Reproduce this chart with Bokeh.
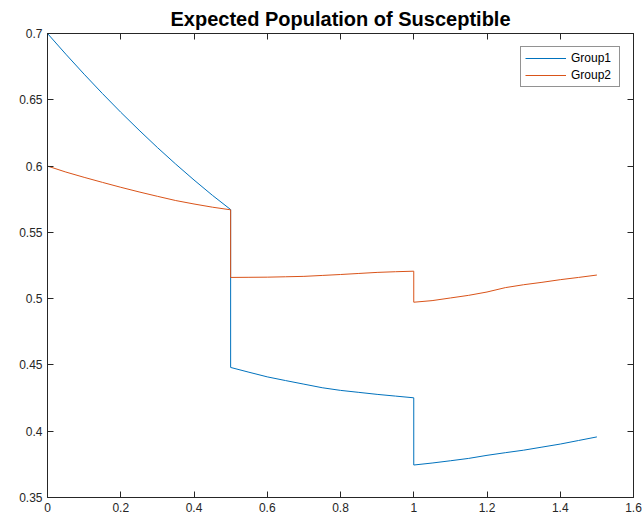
from bokeh.plotting import figure
from bokeh.models import Range1d, FixedTicker, LinearAxis, Legend, LegendItem
from bokeh.embed import file_html
from bokeh.resources import INLINE

# Data
x_seg1 = [0.0, 0.05, 0.1, 0.15, 0.2, 0.25, 0.3, 0.35, 0.4, 0.45, 0.5]
x_seg2 = [0.5, 0.55, 0.6, 0.65, 0.7, 0.75, 0.8, 0.85, 0.9, 0.95, 1.0]
x_seg3 = [1.0, 1.05, 1.1, 1.15, 1.2, 1.25, 1.3, 1.35, 1.4, 1.45, 1.5]

group1_seg1 = [0.7, 0.6844, 0.6693, 0.6547, 0.6406, 0.6271, 0.6140, 0.6015, 0.5895, 0.5780, 0.5672]
group1_seg2 = [0.4481, 0.4445, 0.4410, 0.4382, 0.4355, 0.4328, 0.4308, 0.4293, 0.4278, 0.4265, 0.4252]
group1_seg3 = [0.3745, 0.3760, 0.3777, 0.3795, 0.3818, 0.3838, 0.3857, 0.3880, 0.3903, 0.3930, 0.3957]

group2_seg1 = [0.6, 0.5955, 0.5915, 0.5877, 0.5840, 0.5805, 0.5772, 0.5740, 0.5714, 0.5690, 0.5670]
group2_seg2 = [0.5160, 0.5161, 0.5162, 0.5165, 0.5168, 0.5175, 0.5182, 0.5190, 0.5198, 0.5203, 0.5207]
group2_seg3 = [0.4973, 0.4985, 0.5005, 0.5025, 0.5050, 0.5083, 0.5105, 0.5123, 0.5143, 0.5160, 0.5178]

x_ticks = [0, 0.2, 0.4, 0.6, 0.8, 1.0, 1.2, 1.4, 1.6]
x_tick_labels = ["0", "0.2", "0.4", "0.6", "0.8", "1", "1.2", "1.4", "1.6"]
y_ticks = [0.35, 0.4, 0.45, 0.5, 0.55, 0.6, 0.65, 0.7]
y_tick_labels = ["0.35", "0.4", "0.45", "0.5", "0.55", "0.6", "0.65", "0.7"]

series_names = ["Group1", "Group2"]
colors = ["#0072BD", "#D95319"]

x_all = x_seg1 + x_seg2 + x_seg3
g1 = group1_seg1 + group1_seg2 + group1_seg3
g2 = group2_seg1 + group2_seg2 + group2_seg3

FONT = "Liberation Sans"
AX = "#262626"

p = figure(width=644, height=525, output_backend="svg", toolbar_location=None,
           x_range=Range1d(0, 1.6), y_range=Range1d(0.35, 0.7),
           min_border_left=47, min_border_right=11, min_border_top=33, min_border_bottom=28)

p.title.text = "Expected Population of Susceptible"
p.title.align = "center"
p.title.text_font = FONT
p.title.text_font_size = "20px"
p.title.text_font_style = "bold"
p.title.text_color = "#000000"
p.title.standoff = 8

p.xgrid.visible = False
p.ygrid.visible = False
p.outline_line_color = AX
p.outline_line_width = 1

r1 = p.line(x_all, g1, line_color=colors[0], line_width=1)
r2 = p.line(x_all, g2, line_color=colors[1], line_width=1)

def style_axis(ax, ticks, labels, show_labels=True):
    ax.ticker = FixedTicker(ticks=ticks)
    ax.major_label_overrides = {t: l for t, l in zip(ticks, labels)}
    ax.axis_line_color = AX
    ax.major_tick_line_color = AX
    ax.major_tick_in = 6
    ax.major_tick_out = 0
    ax.minor_tick_line_color = None
    ax.major_label_text_font = FONT
    ax.major_label_text_font_size = "12px"
    ax.major_label_text_color = AX
    ax.major_label_standoff = 5
    if not show_labels:
        ax.major_label_text_font_size = "0px"
        ax.major_label_text_alpha = 0

style_axis(p.xaxis[0], x_ticks, x_tick_labels)
style_axis(p.yaxis[0], y_ticks, y_tick_labels)

top_ax = LinearAxis()
style_axis(top_ax, x_ticks, x_tick_labels, show_labels=False)
p.add_layout(top_ax, "above")
right_ax = LinearAxis()
style_axis(right_ax, y_ticks, y_tick_labels, show_labels=False)
p.add_layout(right_ax, "right")

legend = Legend(items=[LegendItem(label=series_names[0], renderers=[r1]),
                       LegendItem(label=series_names[1], renderers=[r2])],
                location="top_right")
legend.margin = 13
legend.padding = 4
legend.spacing = 3
legend.label_text_font = FONT
legend.label_text_font_size = "12px"
legend.label_text_color = "#000000"
legend.label_height = 14
legend.label_width = 44
legend.glyph_height = 14
legend.glyph_width = 41
legend.label_standoff = 5
legend.border_line_color = AX
legend.border_line_width = 1
legend.background_fill_color = "white"
p.add_layout(legend, "center")

open("out.html", "w").write(file_html(p, INLINE))
